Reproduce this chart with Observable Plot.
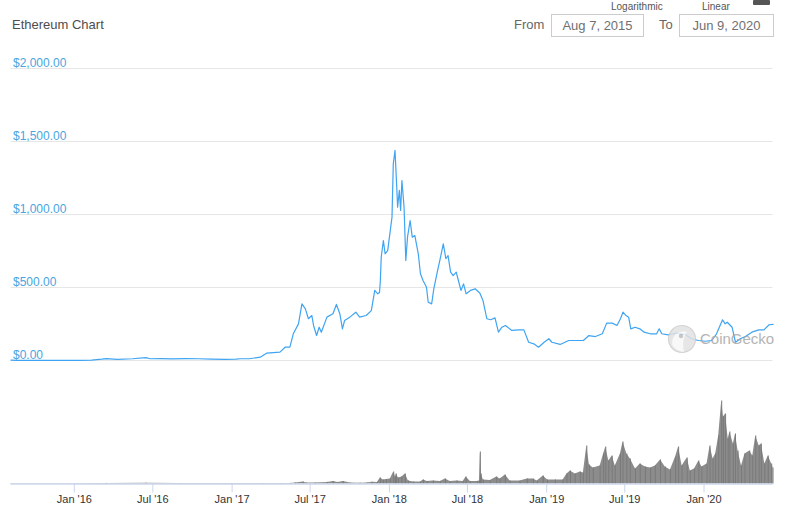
<!DOCTYPE html>
<html><head><meta charset="utf-8">
<script src="https://cdn.jsdelivr.net/npm/d3@7"></script>
<script src="https://cdn.jsdelivr.net/npm/@observablehq/plot@0.6"></script>
<style>
body{margin:0;background:#fff;font-family:"Liberation Sans",Arial,sans-serif;}
#wrap{position:relative;width:793px;height:513px;overflow:hidden;background:#fff;}
.abs{position:absolute;white-space:nowrap;}
.box{position:absolute;border:1px solid #cccccc;box-sizing:border-box;color:#707070;font-size:13px;text-align:center;}
#price,#volume{position:absolute;left:0;}
#price{top:0;}
#volume{top:370px;}
</style></head><body>
<div id="wrap">
  <div id="price"></div>
  <div id="volume"></div>
  <div class="abs" style="left:12px;top:17px;font-size:13px;color:#4d4d4d;">Ethereum Chart</div>
  <div class="abs" style="left:611px;top:1px;font-size:10px;line-height:11px;color:#555;">Logarithmic</div>
  <div class="abs" style="left:702px;top:1px;font-size:10px;line-height:11px;color:#555;">Linear</div>
  <div class="abs" style="left:753px;top:0px;width:17px;height:5px;background:#555;border-radius:1px;"></div>
  <div class="abs" style="left:514px;top:17px;font-size:13px;color:#666;">From</div>
  <div class="box" style="left:551px;top:14px;width:93px;height:23px;line-height:21px;">Aug 7, 2015</div>
  <div class="abs" style="left:659px;top:17px;font-size:13px;color:#666;">To</div>
  <div class="box" style="left:679px;top:14px;width:95px;height:23px;line-height:21px;">Jun 9, 2020</div>
  <svg class="abs" style="left:660px;top:320px;opacity:0.85;" width="120" height="40">
    <circle cx="22" cy="19" r="13.5" fill="#e2e2e2" stroke="#cdcdcd" stroke-width="1.2"/>
    <path d="M12,24 C12,14 20,10 27,12 C24,16 22,22 24,32 C18,31 13,28 12,24 Z" fill="#f7f7f7"/>
    <circle cx="21" cy="16" r="2.2" fill="#bdbdbd"/>
    <text x="40" y="24" font-size="15" fill="#a8a8a8" font-family="Liberation Sans, Arial, sans-serif">CoinGecko</text>
  </svg>
</div>
<script>
// ---- data ----
const startDate = "2015-08-07";
const endDate = "2020-06-09";
const priceDates = [
"2015-08-07","2015-08-20","2015-09-15","2015-10-20","2015-11-15","2015-12-15",
"2016-01-15","2016-02-10","2016-03-05","2016-03-15","2016-04-10","2016-05-15","2016-06-15","2016-06-25",
"2016-07-20","2016-08-15","2016-09-15","2016-10-15","2016-11-15","2016-12-15",
"2017-01-10","2017-01-20","2017-02-10","2017-03-07","2017-03-22","2017-04-22","2017-05-04","2017-05-15",
"2017-05-23","2017-06-04","2017-06-12","2017-06-20","2017-06-27","2017-07-05","2017-07-09","2017-07-16",
"2017-07-22","2017-07-27","2017-08-09","2017-08-23","2017-08-31","2017-09-08","2017-09-14","2017-09-19",
"2017-10-01","2017-10-15","2017-10-24","2017-11-08","2017-11-20","2017-11-28","2017-12-05","2017-12-09",
"2017-12-11","2017-12-13","2017-12-18","2017-12-22","2017-12-28",
"2018-01-07","2018-01-10","2018-01-14","2018-01-18","2018-01-20","2018-01-24","2018-01-27","2018-01-30",
"2018-02-04","2018-02-08","2018-02-12","2018-02-18","2018-02-23","2018-03-01","2018-03-09","2018-03-14",
"2018-03-20","2018-03-28","2018-04-01","2018-04-09","2018-04-14","2018-04-22","2018-04-28","2018-05-06",
"2018-05-12","2018-05-17","2018-05-23","2018-05-29","2018-06-05","2018-06-10","2018-06-16","2018-06-22",
"2018-06-28","2018-07-08","2018-07-19","2018-07-30","2018-08-06","2018-08-15","2018-08-24","2018-09-03",
"2018-09-11","2018-09-19","2018-09-27","2018-10-12","2018-10-28","2018-11-09","2018-11-20","2018-12-02",
"2018-12-13","2018-12-26",
"2019-01-06","2019-01-13","2019-02-01","2019-02-21","2019-03-12","2019-03-27","2019-04-09","2019-04-24",
"2019-05-10","2019-05-20","2019-06-02","2019-06-13","2019-06-21","2019-06-27","2019-07-04","2019-07-10",
"2019-07-15","2019-07-25","2019-08-05","2019-08-15","2019-08-29","2019-09-13","2019-09-19","2019-09-25",
"2019-10-10","2019-10-29","2019-11-18","2019-12-03","2019-12-19",
"2020-01-04","2020-01-19","2020-01-30","2020-02-13","2020-02-19","2020-02-24","2020-03-06","2020-03-14",
"2020-03-25","2020-04-06","2020-04-21","2020-05-07","2020-05-19","2020-05-31","2020-06-09"
];
const priceValues = [
2.8,1.3,0.9,0.5,0.9,0.85,
1.2,2.5,9,13,8,12,20,12,
13,11,12.5,12,10,8,
10,12,12,23,50,57,91,91,
183,251,388,354,286,308,240,171,
228,194,297,320,384,320,217,274,
297,331,297,308,342,480,457,466,
548,708,822,731,753,
982,1347,1439,1187,1050,1165,1028,1233,
1050,685,845,959,845,856,731,594,
548,502,399,388,491,605,685,799,
697,719,605,582,605,548,480,525,
457,480,491,461,411,286,279,292,
194,228,240,206,210,210,125,114,
91,125,
149,125,110,137,137,137,171,164,
183,256,256,240,286,331,308,297,
217,228,217,194,183,183,217,183,
176,187,178,149,137,
132,137,183,279,251,262,228,125,
149,164,194,210,210,245,247
];
const volumeDates = [
"2015-08-07","2016-01-01","2016-03-15","2016-06-15","2016-09-01","2017-01-01","2017-03-15","2017-04-23",
"2017-05-16","2017-05-28","2017-06-15","2017-06-22","2017-07-13","2017-08-10","2017-08-24","2017-09-04",
"2017-09-16","2017-10-02","2017-10-25","2017-11-10","2017-11-22","2017-12-04","2017-12-11","2017-12-18",
"2017-12-25","2018-01-03","2018-01-11","2018-01-15","2018-01-17","2018-01-22","2018-01-30","2018-02-07",
"2018-02-14","2018-02-26","2018-03-14","2018-03-21","2018-03-30","2018-04-13","2018-04-29","2018-05-11",
"2018-05-22","2018-06-07","2018-06-21","2018-06-28","2018-07-08","2018-07-24","2018-07-29","2018-07-31",
"2018-08-02","2018-08-07","2018-08-23","2018-09-07","2018-09-15","2018-09-27","2018-10-08","2018-10-31",
"2018-11-17","2018-12-01","2018-12-10","2018-12-24","2019-01-03","2019-01-21","2019-02-08","2019-02-17",
"2019-02-25","2019-03-08","2019-03-20","2019-03-27","2019-04-04","2019-04-10","2019-04-19","2019-05-05",
"2019-05-13","2019-05-18","2019-05-25","2019-06-02","2019-06-09","2019-06-21","2019-06-27","2019-07-06",
"2019-07-14","2019-07-26","2019-08-06","2019-08-18","2019-08-30","2019-09-10","2019-09-22","2019-10-03",
"2019-10-15","2019-10-27","2019-11-03","2019-11-11","2019-11-23","2019-11-30","2019-12-10","2019-12-20",
"2019-12-27","2020-01-08","2020-01-15","2020-01-22","2020-01-28","2020-02-04","2020-02-11","2020-02-15",
"2020-02-20","2020-02-26","2020-03-01","2020-03-09","2020-03-14","2020-03-20","2020-03-28","2020-04-05",
"2020-04-16","2020-04-23","2020-04-30","2020-05-08","2020-05-13","2020-05-21","2020-05-29","2020-06-06",
"2020-06-09"
];
const volumeValues = [
0.1,0.1,0.3,0.4,0.2,0.2,0.25,0.25,
0.3,0.5,1.0,0.5,0.5,0.8,1.2,0.7,
1.2,0.5,0.4,0.5,0.9,0.8,3,2,
2.2,2.5,6,3.5,5,3,3.5,5,
1.5,1,1,2,1.2,1.5,1.2,2.5,
1.2,1.5,1.2,3.5,1.2,1.3,1.5,16,
5,2,1.7,3.5,2.5,4.5,1.5,1.5,
2.5,2.5,1.5,4,2,2,2,5,
6.5,5,6,5.5,19,9.5,8,9,
15,18.5,11.5,14,9,15,21,15,
12.5,7.5,10,8.5,8,9,12,8.5,
7,13.5,18.5,9,13,6.5,7.5,11.5,
8.5,10,19,12.5,15,24,41.5,33.5,
35,22.5,26,20,25,16.5,9,15,
16.5,14,24,19,20,10,14,10,
8
];
const yTicks = [0, 500, 1000, 1500, 2000];
const xTickDates = ["2016-01-01","2016-07-01","2017-01-01","2017-07-01","2018-01-01","2018-07-01","2019-01-01","2019-07-01","2020-01-01"];
const xTickLabels = ["Jan '16","Jul '16","Jan '17","Jul '17","Jan '18","Jul '18","Jan '19","Jul '19","Jan '20"];

// ---- build ----
const parse = d3.utcParse("%Y-%m-%d");
const xDomain = [parse(startDate), parse(endDate)];
const price = priceDates.map((d, i) => ({date: parse(d), value: priceValues[i]}));
const volume = volumeDates.map((d, i) => ({date: parse(d), value: volumeValues[i]}));
const xTicks = xTickDates.map(parse);
const labelOf = new Map(xTicks.map((d, i) => [+d, xTickLabels[i]]));
const fmt = d3.format(",.2f");
const font = "Liberation Sans, Arial, sans-serif";
const ML = 10.5, MR = 20.5;

const pricePlot = Plot.plot({
  width: 793, height: 370,
  marginLeft: ML, marginRight: MR, marginTop: 68, marginBottom: 10,
  x: {type: "utc", domain: xDomain, axis: null},
  y: {domain: [0, 2000], axis: null},
  style: {background: "transparent", fontFamily: font, overflow: "visible"},
  marks: [
    Plot.ruleY(yTicks, {y: d => d, stroke: "#e6e6e6", strokeWidth: 1}),
    Plot.text(yTicks, {x: () => xDomain[0], y: d => d, text: d => "$" + fmt(d),
      textAnchor: "start", dx: 2, dy: -5, fill: "#48a5e2", fontSize: 12}),
    Plot.lineY(price, {x: "date", y: "value", stroke: "#3fa4f2", strokeWidth: 1.2})
  ]
});
document.getElementById("price").appendChild(pricePlot);

const volPlot = Plot.plot({
  width: 793, height: 143,
  marginLeft: ML, marginRight: MR, marginTop: 13.5, marginBottom: 29.5,
  x: {type: "utc", domain: xDomain},
  y: {domain: [0, 50], axis: null},
  style: {background: "transparent", fontFamily: font, overflow: "visible"},
  marks: [
    Plot.areaY(volume, {x: "date", y: "value", fill: "#8c8c8c"}),
    Plot.ruleX(volume, {x: "date", y1: 0, y2: "value", stroke: "#7a7a7a", strokeWidth: 1}),
    Plot.ruleY([0], {stroke: "#ccd6eb", strokeWidth: 1.5}),
    Plot.axisX({ticks: xTicks, tickFormat: d => labelOf.get(+d), tickSize: 9, tickPadding: 2,
      stroke: "#ccd6eb", fill: "#333333", fontSize: 11, label: null})
  ]
});
document.getElementById("volume").appendChild(volPlot);
</script>
</body></html>
